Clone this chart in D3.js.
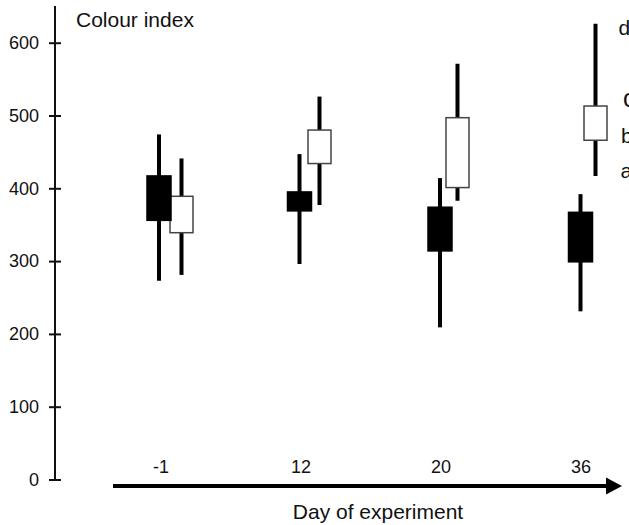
<!DOCTYPE html>
<html>
<head>
<meta charset="utf-8">
<script src="https://cdn.jsdelivr.net/npm/d3@7"></script>
<style>
  body { margin: 0; background: #fff; }
  text { font-family: "Liberation Sans", Arial, sans-serif; fill: #111; }
</style>
</head>
<body>
<svg width="629" height="525"></svg>
<script>
// days of the experiment
var days = ["-1", "12", "20", "36"];

// black boxes
var blackMin = [273, 296, 209, 231];
var blackQ1  = [356, 369, 314, 299];
var blackQ3  = [417, 395, 374, 367];
var blackMax = [474, 447, 414, 392];

// white boxes
var whiteMin = [281, 377, 383, 417];
var whiteQ1  = [339, 434, 401, 466];
var whiteQ3  = [389, 480, 497, 513];
var whiteMax = [441, 526, 571, 626];

var yTicks = [0, 100, 200, 300, 400, 500, 600];

// letters at the right edge (partly cut off) and the level they sit at
var sigLetters = ["d", "c", "b", "a"];
var sigLevels  = [611, 512, 462, 414];

var svg = d3.select("svg");

var y = d3.scaleLinear().domain([0, 600]).range([479.5, 42.7]);
var xBlack = d3.scalePoint().domain(days).range([159, 580.5]);
var xWhite = d3.scalePoint().domain(days).range([181.5, 595.5]);
var xLabel = d3.scalePoint().domain(days).range([161, 581]);

// y axis
var yAxis = svg.append("g")
  .attr("transform", "translate(55,0)")
  .call(d3.axisLeft(y).tickValues(yTicks).tickSize(6).tickPadding(10));
yAxis.select(".domain").remove();
yAxis.selectAll(".tick line").attr("x1", 6).attr("x2", -6)
  .attr("stroke", "#111").attr("stroke-width", 2);
yAxis.selectAll(".tick text").style("font-size", "18px")
  .style("font-family", "'Liberation Sans', Arial, sans-serif").attr("fill", "#111");
svg.append("line")
  .attr("x1", 55).attr("x2", 55).attr("y1", 6).attr("y2", y(0))
  .attr("stroke", "#111").attr("stroke-width", 2);

svg.append("text").attr("x", 76).attr("y", 27)
  .style("font-size", "21px").text("Colour index");

// x arrow
svg.append("line")
  .attr("x1", 113).attr("x2", 610).attr("y1", 486).attr("y2", 486)
  .attr("stroke", "#000").attr("stroke-width", 4);
svg.append("path")
  .attr("d", "M606,477.5 L622,486 L606,494.5 Z").attr("fill", "#000");

svg.selectAll(".daylab").data(days).enter().append("text")
  .attr("class", "daylab")
  .attr("x", function(d) { return xLabel(d); })
  .attr("y", 473)
  .attr("text-anchor", "middle")
  .style("font-size", "18px")
  .text(function(d) { return d; });

svg.append("text").attr("x", 378).attr("y", 519)
  .attr("text-anchor", "middle").style("font-size", "21px")
  .text("Day of experiment");

// boxes
function drawSeries(x, mins, q1, q3, maxs, fill, stroke, w) {
  var g = svg.append("g");
  g.selectAll("line").data(days).enter().append("line")
    .attr("x1", function(d) { return x(d); })
    .attr("x2", function(d) { return x(d); })
    .attr("y1", function(d, i) { return y(mins[i]); })
    .attr("y2", function(d, i) { return y(maxs[i]); })
    .attr("stroke", "#000").attr("stroke-width", 4);
  g.selectAll("rect").data(days).enter().append("rect")
    .attr("x", function(d) { return x(d) - w / 2; })
    .attr("width", w)
    .attr("y", function(d, i) { return y(q3[i]); })
    .attr("height", function(d, i) { return y(q1[i]) - y(q3[i]); })
    .attr("fill", fill)
    .attr("stroke", stroke)
    .attr("stroke-width", 1.5);
}

drawSeries(xWhite, whiteMin, whiteQ1, whiteQ3, whiteMax, "#fff", "#444", 23);
drawSeries(xBlack, blackMin, blackQ1, blackQ3, blackMax, "#000", "#000", 24);

// significance letters at the right edge
var sigX = [618.5, 623, 621, 620.5];
svg.selectAll(".sig").data(sigLetters).enter().append("text")
  .attr("class", "sig")
  .attr("x", function(d, i) { return sigX[i]; })
  .attr("y", function(d, i) { return y(sigLevels[i]); })
  .style("font-size", function(d) { return d === "c" ? "25px" : "21px"; })
  .text(function(d) { return d; });
</script>
</body>
</html>
